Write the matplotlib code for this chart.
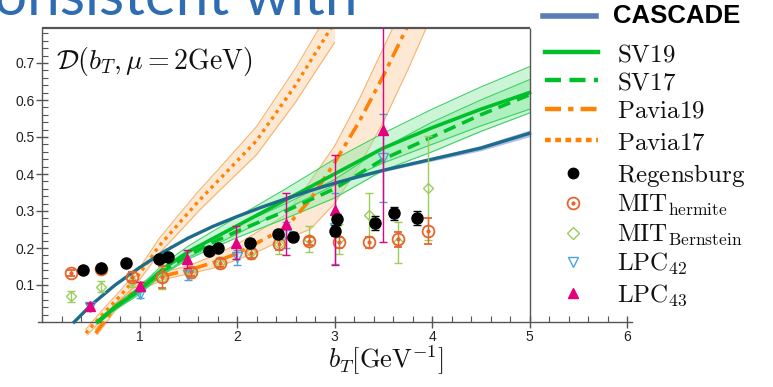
import matplotlib
matplotlib.use('Agg')
import matplotlib.pyplot as plt
from matplotlib.ticker import MultipleLocator, FixedLocator

plt.rcParams['mathtext.fontset'] = 'cm'
plt.rcParams['font.family'] = ['Liberation Sans', 'DejaVu Sans']

# ---------------- data ----------------
cascade_x = [0.33, 0.5, 0.75, 1.0, 1.25, 1.5, 1.75, 2.0, 2.25, 2.5, 2.75, 3.0, 3.25, 3.5,
             3.75, 4.0, 4.25, 4.5, 4.75, 5.0]
cascade_y = [0.0, 0.045, 0.10, 0.147, 0.19, 0.227, 0.258, 0.285, 0.31, 0.333, 0.355, 0.375,
             0.393, 0.41, 0.425, 0.44, 0.455, 0.47, 0.49, 0.51]
cascade_err = [0, 0, 0, 0, 0, 0, 0, 0.001, 0.001, 0.002, 0.002, 0.003, 0.003, 0.004,
               0.004, 0.005, 0.006, 0.007, 0.008, 0.009]

sv_x = [0.57, 0.75, 1.0, 1.25, 1.5, 1.75, 2.0, 2.5, 3.0, 3.5, 4.0, 4.5, 5.0]
sv19_y = [0.0, 0.04, 0.085, 0.145, 0.19, 0.225, 0.26, 0.33, 0.40, 0.47, 0.525, 0.575, 0.62]
sv19_lo = [-0.005, 0.033, 0.075, 0.132, 0.175, 0.205, 0.238, 0.305, 0.37, 0.43, 0.48, 0.53, 0.575]
sv19_hi = [0.005, 0.047, 0.095, 0.158, 0.205, 0.245, 0.283, 0.36, 0.44, 0.51, 0.575, 0.635, 0.69]
sv17_y = [0.0, 0.04, 0.088, 0.14, 0.18, 0.215, 0.245, 0.30, 0.36, 0.44, 0.50, 0.56, 0.614]
sv17_lo = [-0.004, 0.035, 0.08, 0.13, 0.17, 0.20, 0.228, 0.28, 0.335, 0.41, 0.46, 0.515, 0.565]
sv17_hi = [0.004, 0.045, 0.095, 0.15, 0.19, 0.228, 0.26, 0.32, 0.385, 0.47, 0.54, 0.60, 0.655]

pavia19_x = [0.55, 0.75, 1.0, 1.25, 1.5, 1.75, 2.0, 2.25, 2.5, 2.75, 3.0, 3.25, 3.5, 3.75, 4.0]
pavia19_y = [-0.03, 0.04, 0.095, 0.125, 0.14, 0.16, 0.185, 0.22, 0.255, 0.33, 0.43, 0.54, 0.665, 0.80, 0.95]
pavia19_lo = [-0.04, 0.03, 0.085, 0.115, 0.13, 0.145, 0.168, 0.195, 0.225, 0.25, 0.32, 0.42, 0.54, 0.68, 0.83]
pavia19_hi = [-0.02, 0.05, 0.105, 0.135, 0.152, 0.178, 0.21, 0.25, 0.29, 0.38, 0.475, 0.60, 0.74, 0.88, 1.02]

pavia17_x = [0.45, 0.6, 0.8, 1.0, 1.2, 1.4, 1.6, 1.8, 2.0, 2.2, 2.4, 2.6, 2.8, 3.0]
pavia17_y = [-0.03, 0.015, 0.07, 0.13, 0.205, 0.265, 0.325, 0.38, 0.435, 0.49, 0.565, 0.64, 0.725, 0.81]
pavia17_lo = [-0.04, 0.003, 0.056, 0.114, 0.185, 0.241, 0.298, 0.35, 0.401, 0.452, 0.523, 0.594, 0.675, 0.755]
pavia17_hi = [-0.02, 0.027, 0.084, 0.146, 0.225, 0.289, 0.352, 0.41, 0.469, 0.528, 0.607, 0.686, 0.775, 0.865]

reg_x = [0.42, 0.61, 0.86, 1.20, 1.29, 1.71, 1.81, 2.13, 2.42, 2.57, 3.0, 3.03, 3.42, 3.61, 3.85]
reg_y = [0.141, 0.146, 0.159, 0.170, 0.176, 0.192, 0.200, 0.214, 0.238, 0.230, 0.247, 0.278, 0.268, 0.294, 0.281]
reg_err = [0.005, 0.005, 0.006, 0.006, 0.006, 0.008, 0.008, 0.010, 0.010, 0.012, 0.015, 0.015, 0.018, 0.018, 0.020]

mith_x = [0.30, 0.60, 0.92, 1.23, 1.53, 1.83, 2.14, 2.43, 2.74, 3.05, 3.35, 3.65, 3.96]
mith_y = [0.132, 0.143, 0.122, 0.121, 0.135, 0.159, 0.186, 0.210, 0.219, 0.216, 0.216, 0.224, 0.246]
mith_err = [0.008, 0.010, 0.012, 0.030, 0.010, 0.010, 0.012, 0.015, 0.012, 0.015, 0.015, 0.020, 0.035]

mitb_x = [0.30, 0.60, 0.92, 1.23, 1.53, 1.83, 2.14, 2.43, 2.74, 3.05, 3.35, 3.65, 3.96]
mitb_y = [0.070, 0.095, 0.110, 0.120, 0.135, 0.160, 0.190, 0.210, 0.225, 0.225, 0.290, 0.215, 0.362]
mitb_err = [0.015, 0.015, 0.015, 0.030, 0.015, 0.015, 0.020, 0.025, 0.035, 0.040, 0.060, 0.055, 0.140]

lpc42_x = [0.49, 1.0, 1.5, 2.0, 2.5, 3.0, 3.5]
lpc42_y = [0.040, 0.076, 0.126, 0.175, 0.236, 0.253, 0.443]
lpc42_err = [0.008, 0.010, 0.012, 0.020, 0.035, 0.095, 0.120]

lpc43_x = [0.49, 1.0, 1.49, 1.99, 2.5, 3.0, 3.5]
lpc43_y = [0.043, 0.097, 0.170, 0.214, 0.265, 0.303, 0.520]
lpc43_err = [0.008, 0.010, 0.025, 0.045, 0.085, 0.148, 0.305]

xticks = [1, 2, 3, 4, 5, 6]
yticks = [0.1, 0.2, 0.3, 0.4, 0.5, 0.6, 0.7]

# ---------------- colours ----------------
C_CAS = '#1d6d8a'
C_CAS_LEG = '#5b7db6'
C_SV = '#00c02a'
C_SV_BAND = '#8deaa4'
C_SV_EDGE = '#3fd065'
C_PAV = '#ff8205'
C_PAV_BAND = '#fde3c8'
C_PAV_EDGE = '#f4b470'
C_MITH = '#e8642c'
C_MITB = '#9acd5a'
C_L42 = '#4aa3df'
C_L43 = '#e5007d'

# ---------------- figure ----------------
W, H = 773, 387
fig = plt.figure(figsize=(W / 100, H / 100), dpi=100)
XMIN, XMAX = -0.05, 6.1
YMIN, YMAX = -0.035, 0.795
pxx = 97.5
pxy = 370.0
y0px = 322.0
ax_left = 42 - (0 - XMIN) * pxx
ax_w = (XMAX - XMIN) * pxx
ax_top = y0px - YMAX * pxy
ax_bot = y0px - YMIN * pxy
ax = fig.add_axes([ax_left / W, 1 - ax_bot / H, ax_w / W, (ax_bot - ax_top) / H])
ax.set_xlim(XMIN, XMAX)
ax.set_ylim(YMIN, YMAX)
ax.patch.set_visible(False)

frame_c = '#555555'
for s in ['top', 'right']:
    ax.spines[s].set_visible(False)
ax.spines['left'].set_position(('data', 0))
ax.spines['left'].set_bounds(0, YMAX)
ax.spines['bottom'].set_position(('data', 0))
ax.spines['bottom'].set_bounds(-0.04, 6.05)
for s in ['left', 'bottom']:
    ax.spines[s].set_color(frame_c)
    ax.spines[s].set_linewidth(1.0)
ax.hlines(YMAX, 0, 5, color=frame_c, lw=1.6, clip_on=False, zorder=5)
ax.vlines(5, 0, YMAX, color=frame_c, lw=1.0, zorder=5)

ax.xaxis.set_major_locator(FixedLocator(xticks))
ax.xaxis.set_minor_locator(MultipleLocator(0.2))
ax.yaxis.set_major_locator(FixedLocator(yticks))
ax.yaxis.set_minor_locator(FixedLocator([i * 0.02 for i in range(1, 40)]))
ax.tick_params(which='major', direction='inout', length=8, width=1.0, color=frame_c,
               labelsize=10, labelcolor='#222222')
ax.tick_params(which='minor', direction='in', length=4, width=0.8, color=frame_c)
ax.tick_params(axis='x', which='major', pad=2)
ax.tick_params(axis='y', which='major', pad=1)
ax.set_xticklabels([str(t) for t in xticks])
ax.set_yticklabels(['%.1f' % t for t in yticks])

# ----- bands -----
ax.fill_between(pavia17_x, pavia17_lo, pavia17_hi, color=C_PAV_BAND, alpha=0.8, lw=0, zorder=1)
ax.plot(pavia17_x, pavia17_lo, color=C_PAV_EDGE, lw=0.8, zorder=1.5)
ax.plot(pavia17_x, pavia17_hi, color=C_PAV_EDGE, lw=0.8, zorder=1.5)
ax.fill_between(pavia19_x, pavia19_lo, pavia19_hi, color=C_PAV_BAND, alpha=0.8, lw=0, zorder=1)
ax.plot(pavia19_x, pavia19_lo, color=C_PAV_EDGE, lw=0.8, zorder=1.5)
ax.plot(pavia19_x, pavia19_hi, color=C_PAV_EDGE, lw=0.8, zorder=1.5)

ax.fill_between(sv_x, sv19_lo, sv19_hi, color=C_SV_BAND, alpha=0.45, lw=0, zorder=2)
ax.plot(sv_x, sv19_lo, color=C_SV_EDGE, lw=0.8, zorder=2.2)
ax.plot(sv_x, sv19_hi, color=C_SV_EDGE, lw=0.8, zorder=2.2)
ax.fill_between(sv_x, sv17_lo, sv17_hi, color=C_SV_BAND, alpha=0.45, lw=0, zorder=2)
ax.plot(sv_x, sv17_lo, color=C_SV_EDGE, lw=0.8, zorder=2.2)
ax.plot(sv_x, sv17_hi, color=C_SV_EDGE, lw=0.8, zorder=2.2)

cas_lo = [y - e for y, e in zip(cascade_y, cascade_err)]
cas_hi = [y + e for y, e in zip(cascade_y, cascade_err)]
ax.fill_between(cascade_x, cas_lo, cas_hi, color='#8fa3e6', alpha=0.7, lw=0, zorder=2.5)

# ----- central lines -----
ax.plot(pavia17_x, pavia17_y, color=C_PAV, lw=2.4, dashes=(1.0, 1.3), zorder=3)
ax.plot(pavia19_x, pavia19_y, color=C_PAV, lw=2.6, dashes=(4, 1.6, 1.2, 1.6), zorder=3)
ax.plot(sv_x, sv19_y, color=C_SV, lw=2.6, zorder=3)
ax.plot(sv_x, sv17_y, color=C_SV, lw=2.6, dashes=(3.5, 2), zorder=3)
ax.plot(cascade_x, cascade_y, color=C_CAS, lw=2.4, zorder=3.5)

# ----- data points -----
ek = dict(capsize=3, elinewidth=1.0, capthick=1.0, ls='none')
ax.errorbar(mitb_x, mitb_y, yerr=mitb_err, marker='D', ms=5.5, mfc='none', mec=C_MITB,
            mew=1.0, color=C_MITB, zorder=4, **ek)
ax.errorbar(lpc42_x, lpc42_y, yerr=lpc42_err, marker='v', ms=6.5, mfc='none', mec=C_L42,
            mew=1.0, color=C_L42, zorder=4, **ek)
ax.errorbar(mith_x, mith_y, yerr=mith_err, marker='o', ms=8.5, mfc='none', mec=C_MITH,
            mew=1.3, color=C_MITH, zorder=4.5, **ek)
ax.plot(mith_x, mith_y, ls='none', marker='o', ms=2, color=C_MITH, zorder=4.5)
ax.errorbar(lpc43_x, lpc43_y, yerr=lpc43_err, marker='^', ms=7.5, color=C_L43,
            zorder=5, **ek)
ax.errorbar(reg_x, reg_y, yerr=reg_err, marker='o', ms=8, color='black', zorder=5, **ek)

# ----- texts -----
fig.text(56 / W, 1 - 62 / H, r'$\mathcal{D}(b_T,\mu=2\mathrm{GeV})$', fontsize=20,
         ha='left', va='center', color='#111111')
fig.text(386 / W, 1 - 360 / H, r'$b_T[\mathrm{GeV}^{-1}]$', fontsize=19,
         ha='center', va='center', color='#111111')
fig.text(-6 / W, 1 - 15 / H, 'onsistent with', fontsize=42, color='#2f6db3',
         ha='left', va='baseline', family=['Lato', 'DejaVu Sans'])

# ----- legend (manual) -----
lax = fig.add_axes([0, 0, 1, 1])
lax.set_xlim(0, W)
lax.set_ylim(H, 0)
lax.axis('off')
lx0, lx1 = 543, 596
mx = 573
tx = 617
lax.plot([lx0, lx1], [16, 16], color=C_CAS_LEG, lw=4)
lax.text(613, 16, 'CASCADE', fontsize=18.5, fontweight='bold', ha='left', va='center',
         color='black', family=['Liberation Sans', 'DejaVu Sans'])
line_entries = [
    (52, dict(color=C_SV, lw=3.2), r'$\mathrm{SV19}$'),
    (80, dict(color=C_SV, lw=3.2, dashes=(3.6, 1.9)), r'$\mathrm{SV17}$'),
    (109, dict(color=C_PAV, lw=3.2, dashes=(3.6, 1.6, 1.2, 1.6)), r'$\mathrm{Pavia19}$'),
    (140, dict(color=C_PAV, lw=3.2, dashes=(1.3, 1.0)), r'$\mathrm{Pavia17}$'),
]
for yy, kw, lab in line_entries:
    lax.plot([lx0 + 2, lx1 + 2], [yy, yy], **kw)
    lax.text(tx, yy + 9, lab, fontsize=18, ha='left', va='baseline', color='#111111')

lax.plot([mx], [173], marker='o', ms=7.5, color='black', ls='none')
lax.text(tx, 173 + 9, r'$\mathrm{Regensburg}$', fontsize=18, ha='left', va='baseline', color='#111111')
lax.plot([mx], [203], marker='o', ms=8.5, mfc='none', mec=C_MITH, mew=1.3, ls='none')
lax.plot([mx], [203], marker='o', ms=2, color=C_MITH, ls='none')
lax.text(tx, 203 + 9, r'$\mathrm{MIT}_{\mathrm{hermite}}$', fontsize=18, ha='left', va='baseline', color='#111111')
lax.plot([mx], [233], marker='D', ms=6, mfc='none', mec=C_MITB, mew=1.0, ls='none')
lax.text(tx, 233 + 9, r'$\mathrm{MIT}_{\mathrm{Bernstein}}$', fontsize=18, ha='left', va='baseline', color='#111111')
lax.plot([mx], [262], marker='v', ms=7, mfc='none', mec=C_L42, mew=1.0, ls='none')
lax.text(tx, 262 + 9, r'$\mathrm{LPC}_{42}$', fontsize=18, ha='left', va='baseline', color='#111111')
lax.plot([mx], [293], marker='^', ms=7, color=C_L43, ls='none')
lax.text(tx, 293 + 9, r'$\mathrm{LPC}_{43}$', fontsize=18, ha='left', va='baseline', color='#111111')

fig.savefig('out.png', dpi=100)
